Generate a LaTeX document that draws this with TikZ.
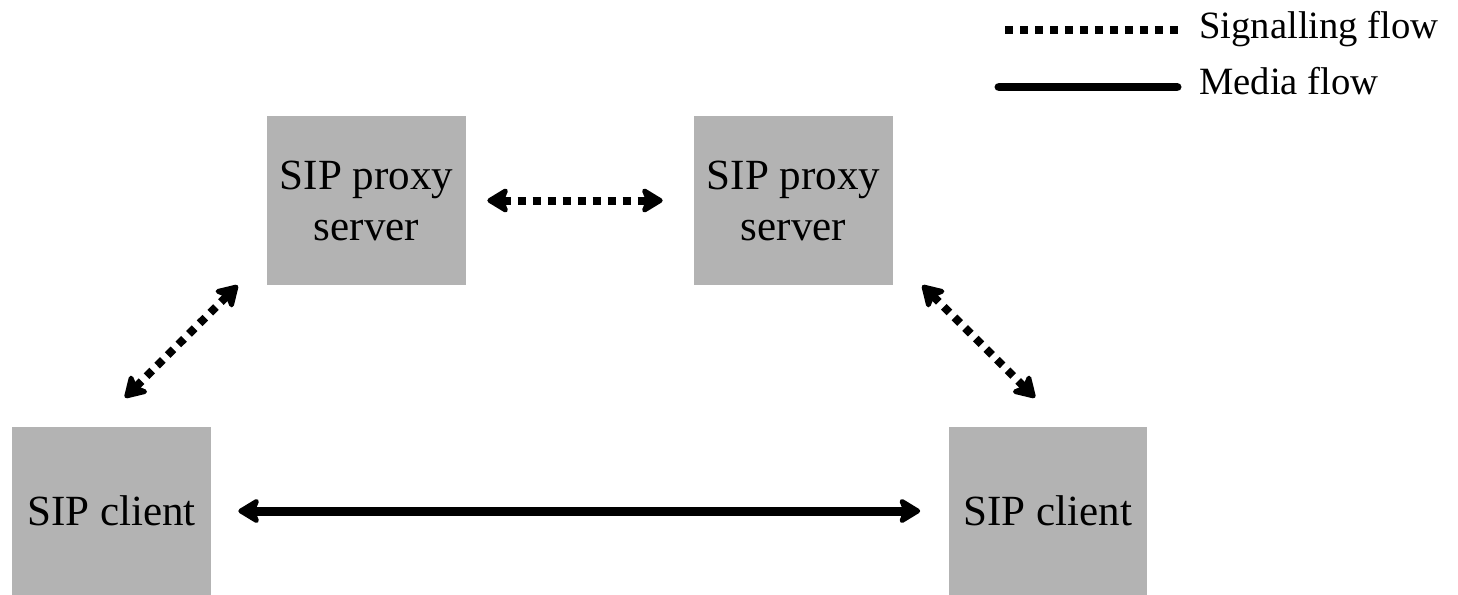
\documentclass[tikz,border=0pt]{standalone}
\usepackage{fontspec}
\setmainfont{Liberation Serif}
\usetikzlibrary{arrows.meta}
\definecolor{boxgray}{HTML}{B3B3B3}
\begin{document}
\begin{tikzpicture}[x=0.02cm,y=-0.02cm,
    txt/.style={font=\fontsize{24.5}{29}\selectfont},
    legtxt/.style={font=\fontsize{22}{26}\selectfont,inner sep=0pt,anchor=base west},
    box/.style={txt,fill=boxgray,inner sep=0pt,minimum width=3.98cm,align=center},
    signal/.style={line width=0.16cm,dash pattern=on 0.16cm off 0.14cm},
    media/.style={line width=0.18cm},
    flowtips/.style={{Stealth[length=0.5cm,width=0.6cm,inset=0.12cm,round]}-{Stealth[length=0.5cm,width=0.6cm,inset=0.12cm,round]}}]
    \useasboundingbox (0,0) rectangle (1458,595);
    % servers and clients
    \foreach \nm/\x/\y/\h/\lbl in {proxyA/366.5/200.5/3.38cm/{SIP proxy\\server},
                                  proxyB/793.5/200.5/3.38cm/{SIP proxy\\server},
                                  clientA/111.5/511/3.36cm/{SIP client},
                                  clientB/1048/511/3.36cm/{SIP client}} {
        \node[box,minimum height=\h] (\nm) at (\x,\y) {\lbl};
    }
    % signalling
    \draw[signal,flowtips] ([xshift=0.42cm]proxyA.east) -- ([xshift=-0.62cm]proxyB.west);
    \draw[signal,flowtips] ([xshift=0.27cm,yshift=0.58cm]clientA.north) -- ([xshift=-0.58cm]proxyA.south west);
    \draw[signal,flowtips] ([xshift=0.58cm]proxyB.south east) -- ([xshift=-0.26cm,yshift=0.58cm]clientB.north);
    % media
    \draw[media,flowtips] ([xshift=0.54cm]clientA.east) -- ([xshift=-0.56cm]clientB.west);
    % legend
    \node[legtxt] (sigtext) at (1199,38) {Signalling flow};
    \node[legtxt] (medtext) at (1199,94) {Media flow};
    \coordinate (sigstart) at (1005,30);
    \coordinate (medstart) at (999,87);
    \draw[signal] (sigstart) -- ([xshift=-0.34cm]sigstart -| sigtext.west);
    \draw[media,line cap=round] (medstart) -- ([xshift=-0.44cm]medstart -| medtext.west);
\end{tikzpicture}
\end{document}
